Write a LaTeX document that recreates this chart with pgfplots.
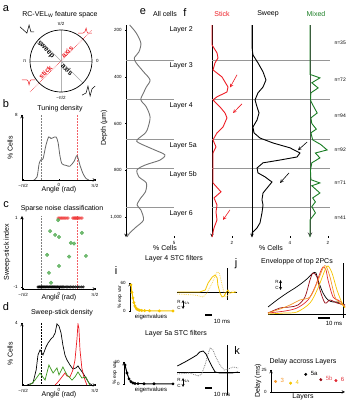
\documentclass[border=0pt]{standalone}
\usepackage{fontspec}
\setmainfont{Liberation Sans}
\usepackage{pgfplots}
\pgfplotsset{compat=1.18}
\definecolor{stickred}{RGB}{237,28,36}
\definecolor{mixgreen}{RGB}{25,125,35}
\definecolor{dotgreen}{RGB}{80,170,80}
\definecolor{dotred}{RGB}{240,60,60}
\definecolor{ly}{RGB}{245,196,0}
\definecolor{lyl}{RGB}{250,215,90}
\definecolor{lor}{RGB}{245,150,40}
\definecolor{ldr}{RGB}{150,10,20}
\definecolor{lr}{RGB}{225,40,50}
\definecolor{layergray}{RGB}{150,150,150}
\newcommand\fs[1]{\fontsize{#1}{#1}\selectfont}
\pgfplotsset{
  base/.style={scale only axis, anchor=south west, axis line style={-, line width=0.5pt},
    tick style={line width=0.4pt, black}, major tick length=1.5pt, tick align=outside,
    tick label style={font=\fs{4.5}}, /pgf/number format/assume math mode=true,
    xlabel style={font=\fs{7}}, ylabel style={font=\fs{7}}},
  ang/.style={base, axis x line=bottom, axis y line=left, xmin=-1.62, xmax=1.62,
    xtick={-1.5708,0,1.5708}, xticklabels={−π/2,0,π/2}, xticklabel style={yshift=0.5pt}},
  depth/.style={base, y dir=reverse, ymin=179, ymax=1085, height=212pt, clip=false},
}
\begin{document}
\begin{tikzpicture}
\useasboundingbox (0,0) rectangle (351pt,400pt);

%================ a
\begin{axis}[base, at={(30pt,308pt)}, width=62pt, height=62pt, xmin=-1, xmax=1, ymin=-1, ymax=1, axis lines=none, clip=false]
\addplot[gray!60, line width=0.4pt] coordinates {(-1,0) (1,0)};
\addplot[gray!60, line width=0.4pt] coordinates {(0,-1) (0,1)};
\addplot[gray!70, line width=0.5pt] coordinates {(-0.707,0.707) (0.707,-0.707)};
\addplot[stickred, densely dotted, line width=0.6pt] coordinates {(-1.0,-1.0) (1.0,1.0)};
\draw[line width=0.7pt] (axis cs:0,0) circle[radius=31pt];
\addplot[black, line width=0.5pt] coordinates {(-1.32,1.10) (-1.10,0.90) (-1.03,1.16) (-0.97,0.94) (-0.87,0.94)};
\addplot[stickred, line width=0.5pt] coordinates {(0.55,0.90) (0.71,0.90) (0.77,0.94) (0.81,1.06) (0.84,0.94) (0.87,0.90) (1.0,0.90)};
\addplot[stickred, line width=0.5pt] coordinates {(-1.26,-0.61) (-1.10,-0.61) (-1.06,-0.65) (-1.03,-0.77) (-1.0,-0.65) (-0.97,-0.61) (-0.84,-0.61)};
\addplot[black, line width=0.5pt] coordinates {(0.68,-1.10) (0.81,-1.03) (0.87,-0.81) (0.94,-1.13) (1.0,-0.90) (1.10,-0.81)};
\node[rotate=-45, font=\bfseries\fs{7}] at (axis cs:-0.50,0.36) {sweep};
\node[rotate=-45, font=\bfseries\fs{7}] at (axis cs:0.20,-0.27) {axis};
\node[rotate=45, font=\bfseries\fs{7}, text=stickred] at (axis cs:-0.50,-0.36) {stick};
\node[rotate=45, font=\bfseries\fs{7}, text=stickred] at (axis cs:0.20,0.29) {axis};
\node[font=\fs{4.5}] at (axis cs:0,1.19) {π/2};
\node[font=\fs{4.5}] at (axis cs:1.17,0) {0};
\node[font=\fs{4.5}] at (axis cs:-1.17,0) {π};
\node[font=\fs{4.5}] at (axis cs:0,-1.19) {−π/2};
\end{axis}

%================ b
\begin{axis}[ang, at={(22pt,220pt)}, width=74pt, height=65pt, ymin=0, ymax=8, ytick={8}]
\addplot[gray, densely dotted, line width=0.5pt] coordinates {(-0.785,0) (-0.785,8)};
\addplot[stickred!70, densely dotted, line width=0.5pt] coordinates {(0.785,0) (0.785,8)};
\addplot[gray!80!black, line width=0.8pt, smooth] coordinates {
(-1.10,0.0) (-0.96,0.4) (-0.87,2.0) (-0.79,2.5) (-0.70,2.6) (-0.57,4.3) (-0.45,5.3) (-0.35,5.1)
(-0.26,5.2) (-0.13,5.3) (-0.04,4.6) (0.04,3.0) (0.13,2.0) (0.31,1.8) (0.48,1.7) (0.66,2.3)
(0.79,3.0) (0.92,1.8) (1.05,0.8) (1.18,0.2) (1.31,0.0)};
\end{axis}

%================ c
\begin{axis}[ang, at={(22pt,111pt)}, width=74pt, height=73pt, ymin=-1.06, ymax=1.06, ytick={-1,1}]
\addplot[gray, densely dotted, line width=0.5pt] coordinates {(-0.785,-1.06) (-0.785,1.06)};
\addplot[stickred!70, densely dotted, line width=0.5pt] coordinates {(0.785,-1.06) (0.785,1.06)};
\addplot[only marks, mark=*, mark size=1.5pt, color=dotred, fill opacity=0.45, draw opacity=0.45] coordinates {
(-0.04,1) (0.0,1) (0.04,1) (0.08,1) (0.11,1) (0.15,1) (0.19,1) (0.23,1) (0.27,1) (0.31,1) (0.36,1) (0.40,1)
(0.60,1) (0.63,1) (0.66,1) (0.68,1) (0.71,1) (0.73,1) (0.75,1) (0.77,1) (0.80,1) (0.82,1) (0.85,1) (0.88,1) (0.92,1) (0.97,1) (1.01,1)};
\addplot[only marks, mark=*, mark size=1.8pt, color=dotgreen, fill opacity=0.8, draw opacity=0.8] coordinates {
(-0.04,0.94) (-0.39,0.62) (-0.17,0.51) (0.0,0.45) (-0.52,-0.07) (0.52,0.28) (0.66,0.26) (1.0,0.57)
(1.18,-0.10) (0.44,-0.12) (0.0,-0.39) (-0.44,-0.59) (-0.35,-0.88)};
\addplot[only marks, mark=*, mark size=1.3pt, color=black, fill opacity=0.7, draw opacity=0.7] coordinates {
(-0.92,-1) (-0.88,-1) (-0.84,-1) (-0.80,-1) (-0.76,-1) (-0.72,-1) (-0.68,-1) (-0.64,-1) (-0.60,-1) (-0.56,-1)
(-0.52,-1) (-0.48,-1) (-0.44,-1) (-0.40,-1) (-0.36,-1) (-0.32,-1) (-0.28,-1) (-0.24,-1) (-0.20,-1) (-0.16,-1)
(-0.12,-1) (-0.08,-1) (-0.04,-1) (0.0,-1) (0.05,-1) (0.10,-1) (0.15,-1) (0.20,-1) (0.26,-1) (0.32,-1)
(0.38,-1) (0.44,-1) (0.50,-1) (0.57,-1) (0.64,-1) (0.72,-1) (0.80,-1) (0.88,-1) (0.97,-1) (1.06,-1)};
\end{axis}

%================ d
\begin{axis}[ang, at={(22pt,15pt)}, width=74pt, height=62pt, ymin=0, ymax=4, ytick={4}]
\addplot[black, densely dotted, line width=0.5pt] coordinates {(-0.785,0) (-0.785,4)};
\addplot[black, line width=0.7pt] coordinates {
(-1.40,0) (-1.14,0.13) (-1.0,0.97) (-0.92,1.94) (-0.83,2.26) (-0.70,1.94) (-0.57,2.45) (-0.48,2.71)
(-0.35,2.97) (-0.26,3.1) (-0.17,3.35) (-0.09,3.94) (0.0,3.8) (0.09,3.35) (0.17,2.58) (0.26,1.94)
(0.35,1.61) (0.48,1.29) (0.61,1.03) (0.74,1.10) (0.83,1.23) (0.92,1.03) (1.05,0.77) (1.18,0.45) (1.31,0.13) (1.44,0)};
\addplot[stickred, line width=0.7pt] coordinates {
(-0.17,0) (-0.04,0.2) (0.13,0.52) (0.26,0.77) (0.35,0.58) (0.48,0.52) (0.61,0.97) (0.70,1.61)
(0.79,3.03) (0.83,3.94) (0.87,3.68) (0.92,2.26) (1.0,1.1) (1.09,0.52) (1.22,0)};
\addplot[mixgreen!80!lime, line width=0.7pt] coordinates {
(-1.27,0) (-1.05,0.32) (-0.83,0.77) (-0.61,0.32) (-0.44,1.29) (-0.26,0.77) (-0.09,1.10) (0,0.65)
(0.17,1.16) (0.35,0.65) (0.57,0.32) (0.70,0.52) (0.83,0.84) (1.0,0.45) (1.18,0.52) (1.35,0)};
\end{axis}

%================ e
\begin{axis}[depth, at={(126pt,163pt)}, width=52pt, xmin=0, xmax=5.4, axis y line=left, axis x line=bottom,
  ytick={200,400,600,800,1000}, xtick={5}, x axis line style={draw=none}]
\foreach \d in {328,495,666,790,956} {\edef\tmp{\noexpand\addplot[layergray, line width=0.6pt] coordinates {(0,\d) (5.0,\d)};}\tmp}
\addplot[gray!90!black, line width=0.9pt, smooth] coordinates {
(0.38,179) (1.06,213) (1.54,256) (1.34,294) (0.86,320) (1.06,341) (1.82,379) (2.5,414) (2.11,444)
(1.82,469) (1.54,499) (2.11,529) (2.5,572) (2.3,615) (2.02,640) (1.15,670) (1.34,683) (2.98,713)
(4.03,734) (3.55,756) (2.02,777) (1.15,798) (1.34,828) (2.11,854) (2.02,892) (1.54,918) (1.15,948)
(1.54,969) (1.82,1012) (1.06,1042) (0.38,1068) (0.1,1085)};
\end{axis}

%================ f stick
\begin{axis}[depth, at={(212pt,163pt)}, width=20pt, xmin=0, xmax=2, axis y line=left, axis x line=bottom,
  ytick=\empty, xtick={2}, x axis line style={draw=none}]
\foreach \d in {328,495,666,790,956} {\edef\tmp{\noexpand\addplot[layergray, line width=0.6pt] coordinates {(0,\d) (11.8,\d)};}\tmp}
\addplot[stickred, line width=0.9pt] coordinates {
(0,179) (0,264) (0.5,298) (0.6,320) (0.3,341) (0.1,371) (1.0,401) (1.6,444) (1.5,465) (0.5,486)
(0.1,499) (0.8,529) (1.3,555) (1.5,576) (1.1,615) (0.5,640) (0.1,670) (0.4,700) (0.1,726) (0.1,756)
(0.1,854) (0.9,892) (0.2,918) (0.5,948) (0.4,978) (0.5,1012) (0.2,1046) (0,1085)};
\draw[->, stickred, line width=0.6pt, >=stealth] (axis cs:2.5,392) -- (axis cs:1.8,446);
\draw[->, stickred, line width=0.6pt, >=stealth] (axis cs:3.0,516) -- (axis cs:2.1,555);
\draw[->, stickred, line width=0.6pt, >=stealth] (axis cs:1.8,969) -- (axis cs:1.1,1012);
\end{axis}

%================ f sweep
\begin{axis}[depth, at={(252pt,163pt)}, width=38pt, xmin=0, xmax=4, axis y line=left, axis x line=bottom,
  ytick=\empty, xtick={4}, x axis line style={draw=none}]
\addplot[black, line width=0.9pt] coordinates {
(0,179) (0,273) (0.1,307) (0.63,341) (1.16,379) (1.47,414) (1.16,444) (0.63,469) (0.32,499) (0.53,529)
(0.74,555) (0.53,585) (0.1,615) (0.21,640) (0.84,662) (2.2,683) (4.0,704) (5.05,726) (4.74,743)
(2.95,756) (1.16,768) (0.53,790) (0.63,811) (1.37,828) (2.1,850) (1.68,871) (1.16,897) (1.05,926)
(1.16,948) (1.05,982) (0.84,1025) (0.53,1046) (0,1068) (0,1085)};
\draw[->, black, line width=0.6pt, >=stealth] (axis cs:5.8,679) -- (axis cs:4.84,714);
\draw[->, black, line width=0.6pt, >=stealth] (axis cs:3.9,811) -- (axis cs:2.95,854);
\end{axis}

%================ f mixed
\begin{axis}[depth, at={(310pt,163pt)}, width=18pt, xmin=0, xmax=2, axis y line=left, axis x line=bottom,
  ytick=\empty, xtick={2}, x axis line style={draw=none}, y axis line style={draw=gray!60!black, line width=1pt}]
\addplot[mixgreen, line width=0.9pt] coordinates {
(0,179) (0,390) (1.1,405) (0.2,426) (0.9,448) (0.1,469) (0.05,500) (0.3,520) (0.8,555) (0.1,576)
(0.2,600) (0.7,624) (0.1,640) (0.3,670) (1.2,690) (1.9,713) (0.6,726) (1.1,747) (0.2,768) (0.05,800)
(0.1,840) (1.1,854) (0.2,866) (1.1,897) (0.3,918) (0.6,935) (0.2,955) (0.6,982) (0,1012) (0,1085)};
\end{axis}

%================ i top left
\begin{axis}[base, at={(130pt,89pt)}, width=43pt, height=28pt, xmin=0, xmax=44, ymin=0, ymax=60,
  axis y line=left, axis x line=none, ytick={0,60}, clip=false]
\addplot[ly, line width=1pt, mark=*, mark size=0.9pt] coordinates {
(1,56) (2,40) (3,28) (4,18) (5,11) (6,7) (7,4) (8,3) (9,2) (10,1.5) (12,1) (15,0.8) (20,0.5) (30,0.3) (44,0.2)};
\end{axis}

%================ i top right
\begin{axis}[base, at={(177pt,100pt)}, width=63pt, height=32pt, xmin=-71.4, xmax=18.6, ymin=-8, ymax=24, axis lines=none, clip=false]
\addplot[black, line width=0.6pt] coordinates {(-71.4,0) (14,0)};
\addplot[black, line width=0.6pt] coordinates {(0,-8) (0,24)};
\addplot[lyl, densely dotted, line width=0.8pt] coordinates {
(-71,-2) (-46,-3) (-34,-5) (-29,-1) (-21,9) (-17,16) (-14,20) (-11,19) (-7,7) (-3,-4) (0,-5) (3,-1) (9,1) (13,0)};
\addplot[ly, line width=0.8pt] coordinates {
(-71,0) (-39,0) (-31,2) (-27,9) (-21,15) (-17,17) (-14,14) (-13,7) (-10,-1) (-7,-5) (-4,-4) (-1,0) (1.4,2) (4,-1) (13,0)};
\end{axis}

%================ i bottom left
\begin{axis}[base, at={(124pt,16pt)}, width=49pt, height=22pt, xmin=0, xmax=49, ymin=0, ymax=60,
  axis y line=left, axis x line=none, ytick={0,60}, clip=false]
\addplot[black, line width=1pt, mark=*, mark size=0.9pt] coordinates {
(1,52) (3,30) (5,14) (7,6) (9,3) (11,1.5) (14,1) (20,0.6) (30,0.4) (49,0.3)};
\end{axis}

%================ i bottom right
\begin{axis}[base, at={(177pt,5pt)}, width=63pt, height=50pt, xmin=-71.4, xmax=18.6, ymin=-23, ymax=27, axis lines=none, clip=false]
\addplot[black, line width=0.6pt] coordinates {(-71.4,0) (18,0)};
\addplot[black, line width=0.6pt] coordinates {(0,-23) (0,27)};
\addplot[gray, densely dotted, line width=0.8pt] coordinates {
(-71,-2) (-53,-1) (-41,-4) (-36,-2) (-31,8) (-27,18) (-24,24) (-20,22) (-16,15) (-10,7) (-4,2) (1.4,3) (9,5) (16,4)};
\addplot[black, line width=0.8pt] coordinates {
(-71,6) (-60,10) (-50,14) (-43,17) (-39,20) (-34,21) (-30,18) (-26,12) (-21,5) (-17,0) (-10,-1) (0,-1) (7,-1) (16,0)};
\end{axis}

%================ j
\begin{axis}[base, at={(268pt,86pt)}, width=77pt, height=51pt, xmin=-75, xmax=2, ymin=0, ymax=51, axis lines=none, clip=false]
\addplot[black, line width=0.6pt] coordinates {(-75,0) (3,0)};
\addplot[black, line width=0.6pt] coordinates {(0,-4) (0,51)};
\addplot[black, line width=0.7pt, smooth] coordinates {
(-75,7) (-66,14) (-56,21) (-48,26) (-41,31) (-35,36) (-30,41) (-27,41) (-25,34) (-20,21) (-15,14) (-10,12) (-6,12) (-2,10) (2,9)};
\addplot[ldr, line width=0.7pt, smooth] coordinates {
(-75,1) (-63,6) (-53,7) (-45,9) (-38,17) (-33,34) (-30,41) (-26,37) (-23,24) (-18,11) (-13,14) (-6,11) (2,9)};
\addplot[lr, line width=0.7pt, smooth] coordinates {
(-75,1) (-58,3) (-46,6) (-35,14) (-28,27) (-23,41) (-20,47) (-17,44) (-15,34) (-10,17) (-5,14) (-1,11) (2,7)};
\addplot[lor, line width=0.7pt, smooth] coordinates {
(-75,1) (-63,5) (-53,9) (-43,14) (-33,17) (-26,31) (-20,46) (-17,48) (-13,37) (-8,17) (-3,11) (2,7)};
\addplot[ly, line width=0.7pt, smooth] coordinates {
(-75,0) (-58,1) (-46,2) (-33,11) (-25,26) (-18,44) (-15,48) (-11,41) (-6,24) (-1,11) (2,6)};
\end{axis}

%================ k
\begin{axis}[base, at={(271pt,8pt)}, width=74pt, height=22pt, xmin=0.7, xmax=5.6, ymin=0, ymax=25,
  axis y line=left, axis x line=bottom, ytick={0,25}, xtick=\empty, clip=false]
\addplot[only marks, mark=*, mark size=1.3pt, color=lor] coordinates {(1,12)};
\addplot[only marks, mark=*, mark size=1.3pt, color=ly] coordinates {(2,10)};
\addplot[only marks, mark=*, mark size=1.3pt, color=black] coordinates {(3,20)};
\addplot[only marks, mark=*, mark size=1.3pt, color=ldr] coordinates {(4,14)};
\addplot[only marks, mark=*, mark size=1.3pt, color=lr] coordinates {(5,13)};
\node[font=\fs{6}, text=lor, anchor=west] at (axis cs:1.1,13) {3};
\node[font=\fs{6}, text=ly, anchor=west] at (axis cs:2.1,11) {4};
\node[font=\fs{6}, text=black, anchor=west] at (axis cs:3.1,21) {5a};
\node[font=\fs{6}, text=lr!80, anchor=west] at (axis cs:4.1,15.5) {5b};
\node[font=\fs{6}, text=lr, anchor=west] at (axis cs:5.1,14) {6};
\end{axis}

%================ text layer (image coordinates)
\begin{scope}[x=1pt, y=-1pt, shift={(0pt,400pt)}]
\node[font=\fs{11}] at (6,9) {a};
\node[font=\fs{7}] at (60,15) {RC-VEL\textsubscript{W} feature space};
\node[font=\fs{11}] at (6,104) {b};
\node[font=\fs{7}] at (60,109) {Tuning density};
\node[font=\fs{7}, rotate=90] at (10,148) {\% Cells};
\node[font=\fs{7}] at (59,190) {Angle (rad)};
\node[font=\fs{11}] at (6,205) {c};
\node[font=\fs{7}] at (62,209) {Sparse noise classification};
\node[font=\fs{7}, rotate=90] at (7,252) {Sweep-stick index};
\node[font=\fs{7}] at (59,298) {Angle (rad)};
\node[font=\fs{11}] at (6,307) {d};
\node[font=\fs{7}] at (62,313) {Sweep-stick density};
\node[font=\fs{7}, rotate=90] at (10,354) {\% Cells};
\node[font=\fs{7}] at (59,395) {Angle (rad)};
\node[font=\fs{11}] at (143,12) {e};
\node[font=\fs{7}] at (165,14) {All cells};
\node[font=\fs{7}, rotate=90] at (104,128) {Depth (µm)};
\node[font=\fs{7}] at (165,248) {\% Cells};
\node[font=\fs{11}] at (185,13) {f};
\node[font=\fs{7}, text=stickred] at (222,14) {Stick};
\node[font=\fs{7}] at (268,14) {Sweep};
\node[font=\fs{7}, text=mixgreen] at (316,14) {Mixed};
\node[font=\fs{7}] at (271,248) {\% Cells};
\foreach \yy/\tt in {30/Layer 2, 66/Layer 3, 106/Layer 4, 146/Layer 5a, 175/Layer 5b, 214/Layer 6}
  {\node[font=\fs{7}, anchor=west] at (166,\yy) {\tt};}
\foreach \yy/\tt in {43/35, 80/72, 116/94, 150/92, 183/71, 218/41}
  {\node[font=\fs{5}, anchor=west] at (331,\yy) {n=\tt};}
\node[font=\fs{11}] at (116,271) {i};
\node[font=\fs{7}] at (174,259) {Layer 4 STC filters};
\node[font=\fs{5}, rotate=90] at (120,297) {\% exp var};
\node[font=\fs{6}] at (151,317) {eigenvalues};
\node[font=\fs{7}] at (176,334) {Layer 5a STC filters};
\node[font=\fs{5}, rotate=90] at (115,373) {\% exp var};
\node[font=\fs{6}] at (151,390) {eigenvalues};
\node[font=\fs{4.5}] at (179,302) {R};
\node[font=\fs{4.5}] at (179,307.5) {C};
\draw[<->, >=stealth, line width=0.4pt] (183,300) -- (183,309);
\node[font=\fs{3.5}] at (187,303) {1/s};
\draw[line width=1.2pt] (205,315) -- (212,315);
\node[font=\fs{6}] at (222,321) {10 ms};
\node[font=\fs{4.5}] at (179,380) {R};
\node[font=\fs{4.5}] at (179,385.5) {C};
\draw[<->, >=stealth, line width=0.4pt] (183,378) -- (183,387);
\node[font=\fs{3.5}] at (187,381) {1/s};
\draw[line width=1.2pt] (205,388) -- (212,388);
\node[font=\fs{6}] at (222,394) {10 ms};
\node[font=\fs{11}] at (236,264) {j};
\node[font=\fs{7}] at (297,262) {Enveloppe of top 2PCs};
\node[font=\fs{4.5}] at (277,282) {R};
\node[font=\fs{4.5}] at (277,288) {C};
\draw[<->, >=stealth, line width=0.4pt] (280.5,280) -- (280.5,290);
\draw[line width=1.2pt] (318,318) -- (330,318);
\node[font=\fs{6}] at (334,323) {10 ms};
\node[font=\fs{11}] at (237,351) {k};
\node[font=\fs{7}] at (303,362) {Delay accross Layers};
\node[font=\fs{7}, rotate=90] at (258,381) {Delay (ms)};
\node[font=\fs{7}] at (303,397) {Layers};
\end{scope}
\end{tikzpicture}
\end{document}
